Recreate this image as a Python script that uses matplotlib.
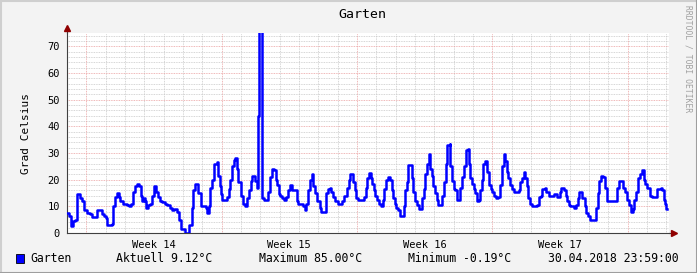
import matplotlib
matplotlib.use("Agg")
import matplotlib.pyplot as plt

# hours since start of graph, temperature in degC (step values)
hours = [0, 2, 5, 8, 10, 12, 16, 19, 21, 25, 29, 31, 37, 43, 46, 49, 50, 56, 57, 60,
         62, 65, 66, 70, 74, 77, 80, 82, 85, 87, 90, 92, 93, 95, 97, 98, 101, 103, 106, 108,
         111, 113, 115, 118, 122, 124, 128, 130, 133, 137, 139, 141, 147, 152, 155, 157, 159, 163, 166, 172,
         174, 176, 178, 180, 182, 186, 188, 190, 191, 193, 199, 201, 203, 205, 207, 209, 211, 212, 216, 218,
         221, 223, 226, 228, 230, 234, 236, 237, 239, 242, 244, 250, 252, 254, 257, 259, 261, 263, 265, 267,
         270, 272, 274, 277, 280, 285, 287, 290, 293, 295, 297, 299, 302, 304, 306, 308, 310, 314, 315, 321,
         324, 326, 328, 330, 333, 336, 342, 344, 348, 350, 352, 355, 357, 359, 361, 369, 371, 373, 375, 377,
         379, 381, 383, 385, 387, 390, 392, 394, 396, 398, 401, 403, 405, 407, 409, 411, 413, 418, 420, 422,
         424, 428, 430, 432, 434, 437, 441, 443, 445, 447, 449, 451, 453, 455, 457, 459, 461, 466, 468, 470,
         472, 475, 476, 478, 480, 482, 484, 488, 491, 493, 495, 498, 499, 501, 503, 505, 507, 509, 511, 513,
         515, 517, 519, 521, 524, 526, 528, 530, 533, 535, 538, 540, 542, 544, 546, 548, 550, 553, 555, 561,
         563, 565, 567, 569, 571, 573, 575, 577, 584, 586, 588, 590, 593, 595, 598, 605, 609, 612, 614, 617,
         619, 621, 623, 625, 629, 632, 634, 636, 640, 643, 645, 647, 650, 657, 659, 661, 663, 665, 668, 670,
         671, 681, 683, 685, 691, 693, 695, 698, 700, 703, 704, 707, 709, 711, 714, 716, 718, 720, 724, 726,
         732, 733, 737, 739, 741, 742, 744, 745]
temps = [7.5, 6.5, 2.7, 4.5, 5, 14.5, 13, 12, 8.5, 7.5, 7, 6, 8.5, 7, 6.5, 5.5, 3, 3.5, 10, 13.5,
         15, 13.5, 12, 11, 10.5, 10, 11, 15.5, 17.5, 18.5, 17.5, 14, 12, 13, 12, 9.5, 10.5, 11, 14, 17.5,
         15.5, 13.5, 12, 11.5, 11, 10.5, 9.5, 8.5, 9, 8, 5, 1.5, 0, 3, 9.5, 16, 18.5, 15, 10, 9.5,
         7.5, 10, 17, 20, 26, 26.5, 21.5, 17.5, 14.5, 12.5, 13.5, 16.5, 20, 25, 27.5, 28, 24, 19, 14, 11,
         10, 13, 16, 19.5, 21.5, 19.5, 17, 44, 85, 13, 12.5, 15.5, 21, 24, 23.5, 20, 18, 14.5, 14, 13,
         12.5, 13.5, 16, 18, 16, 12, 11, 11, 10, 8.5, 11, 16, 20, 22, 17.5, 15, 12, 9.5, 8, 15,
         16.5, 17, 15.5, 13.5, 12, 11, 12, 14, 17, 20, 22, 19, 16, 13, 12.5, 13.5, 17, 20.5, 22.5, 20.5,
         18.5, 16, 14, 12.5, 11, 10, 12.5, 16.5, 20, 21, 20, 16, 13, 11, 9.5, 8.5, 6.5, 10, 16, 19,
         25.5, 20.5, 15.5, 12, 10.5, 9, 13, 16.5, 22, 26, 29.5, 24, 21.5, 17.5, 15, 12.5, 10.5, 14, 19, 26,
         33, 33.5, 25, 19.5, 16.5, 16, 12.5, 17, 21, 25, 31, 31.5, 26, 20.5, 18.5, 16.5, 15, 12, 12.5, 16,
         20, 26, 27, 23, 18, 16.5, 15.5, 14, 13, 13.5, 18, 25, 29.5, 27, 23, 20.5, 18, 16.5, 15.5, 16,
         19, 20.5, 23, 20.5, 17.5, 13, 11, 10, 10.5, 13.5, 14, 16.5, 17, 15.5, 14, 14.5, 13.5, 15.5, 17, 16,
         14, 12, 10.5, 10, 9.5, 10.5, 13, 15.5, 13, 10, 7.5, 6.5, 5, 9.5, 15, 19.5, 21.5, 21, 17, 15.5,
         12, 12, 17, 19.5, 17, 15.5, 12.5, 10.5, 8, 9, 12.5, 15.5, 20.5, 22, 23.5, 20, 18.5, 17, 14, 13.5,
         13.5, 16.5, 17, 16, 12.5, 11, 9, 9.12]

y_ticks = [0, 10, 20, 30, 40, 50, 60, 70]
week_pos = [108, 276, 444, 612]
week_labels = ["Week 14", "Week 15", "Week 16", "Week 17"]
major_days = [24, 192, 360, 528, 696]
minor_days = list(range(24, 748, 24))

mono = "DejaVu Sans Mono"
W, H = 697, 273
fig = plt.figure(figsize=(W / 100, H / 100), dpi=100, facecolor="#f3f3f3")
ax = fig.add_axes([67 / W, 40 / H, 602 / W, 200 / H])
ax.set_facecolor("white")
ax.set_xlim(0, 747.5)
ax.set_ylim(0, 75)

# grid: minor dotted grey, major dotted red
for y in range(2, 76, 2):
    if y % 10:
        ax.axhline(y, color="#c8c8c8", lw=0.6, ls=(0, (1, 1)), zorder=1)
for d in minor_days:
    if d not in major_days:
        ax.axvline(d, color="#c8c8c8", lw=0.6, ls=(0, (1, 1)), zorder=1)
for y in y_ticks[1:]:
    ax.axhline(y, color="#eaa0a0", lw=0.6, ls=(0, (1, 1)), zorder=1)
for d in major_days:
    ax.axvline(d, color="#eaa0a0", lw=0.6, ls=(0, (1, 1)), zorder=1)

ax.plot(hours, temps, drawstyle="steps-post", color="#0000ff", lw=1.8, zorder=3)

for s in ["top", "right"]:
    ax.spines[s].set_visible(False)
for s in ["left", "bottom"]:
    ax.spines[s].set_color("#404040")
    ax.spines[s].set_linewidth(0.8)
# axis arrows
ax.plot([0, 0], [1, 1.025], transform=ax.transAxes, color="#404040", lw=0.8, clip_on=False)
ax.plot([1, 1.008], [0, 0], transform=ax.transAxes, color="#404040", lw=0.8, clip_on=False)
ax.plot([0], [1.025], marker="^", ms=4, color="#900000", transform=ax.transAxes, clip_on=False)
ax.plot([1.008], [0], marker=">", ms=4, color="#900000", transform=ax.transAxes, clip_on=False)

ax.set_yticks(y_ticks)
ax.set_yticklabels([str(v) for v in y_ticks], fontfamily=mono, fontsize=7.5)
ax.set_xticks(week_pos)
ax.set_xticklabels(week_labels, fontfamily=mono, fontsize=7.5)
ax.tick_params(axis="both", length=0, pad=5, colors="black")
ax.set_ylabel("Grad Celsius", fontfamily=mono, fontsize=8, labelpad=12)

fig.text(362 / W, 1 - 14 / H, "Garten", fontfamily=mono, fontsize=9.5, ha="center", va="center")
fig.text(688 / W, 1 - 59 / H, "RRDTOOL / TOBI OETIKER", fontfamily=mono, fontsize=5.8,
         color="#a0a0a0", rotation=-90, ha="center", va="center")

# legend row
fig.patches.append(plt.Rectangle((15.5 / W, 1 - 263 / H), 8.5 / W, 9 / H, transform=fig.transFigure,
                                 facecolor="#0000ff", edgecolor="black", lw=0.6))
ly = 1 - 259 / H
fig.text(30 / W, ly, "Garten", fontfamily=mono, fontsize=8.3, va="center")
fig.text(116 / W, ly, "Aktuell 9.12°C", fontfamily=mono, fontsize=8.3, va="center")
fig.text(259 / W, ly, "Maximum 85.00°C", fontfamily=mono, fontsize=8.3, va="center")
fig.text(408 / W, ly, "Minimum -0.19°C", fontfamily=mono, fontsize=8.3, va="center")
fig.text(548 / W, ly, "30.04.2018 23:59:00", fontfamily=mono, fontsize=8.3, va="center")

# border shading
fig.add_artist(plt.Line2D([0, 1], [1 - 0.5 / H, 1 - 0.5 / H], color="#cfcfcf", lw=1.5))
fig.add_artist(plt.Line2D([0.5 / W, 0.5 / W], [0, 1], color="#cfcfcf", lw=1.5))
fig.add_artist(plt.Line2D([0, 1], [0.5 / H, 0.5 / H], color="#9e9e9e", lw=1.5))
fig.add_artist(plt.Line2D([1 - 0.5 / W, 1 - 0.5 / W], [0, 1], color="#9e9e9e", lw=1.5))

fig.savefig("out.png", dpi=100, facecolor=fig.get_facecolor())
